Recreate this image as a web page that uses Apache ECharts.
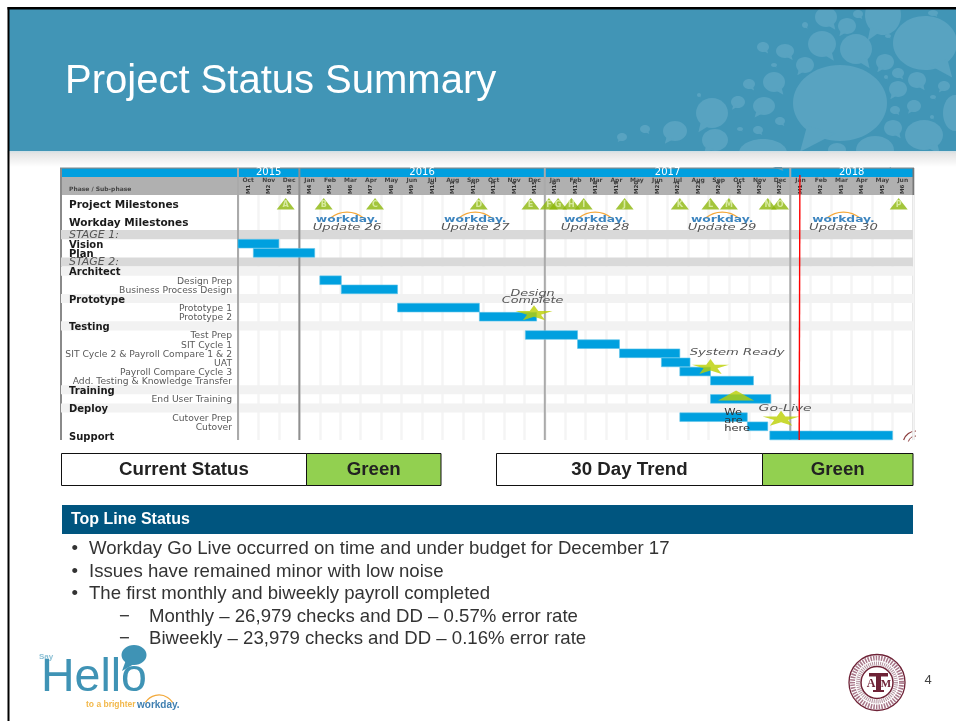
<!DOCTYPE html>
<html><head><meta charset="utf-8">
<style>html,body{margin:0;padding:0;background:#fff}#c{width:956px;height:721px}</style>
<script src="https://cdn.jsdelivr.net/npm/echarts@6/dist/echarts.min.js"></script>
</head><body><div id="c"></div>
<script>
// ---------- chart data (x values are months counted from Oct 2015) ----------
const months = ['Oct','Nov','Dec','Jan','Feb','Mar','Apr','May','Jun','Jul','Aug','Sep','Oct','Nov','Dec','Jan','Feb','Mar','Apr','May','Jun','Jul','Aug','Sep','Oct','Nov','Dec','Jan','Feb','Mar','Apr','May','Jun'];
const monthCodes = ['M1','M2','M3','M4','M5','M6','M7','M8','M9','M10','M11','M12','M13','M14','M15','M16','M17','M18','M19','M20','M21','M22','M23','M24','M25','M26','M27','M1','M2','M3','M4','M5','M6'];
const yearNames = ['2015','2016','2017','2018'];
const yearStarts = [0,3,15,27];
const yearEnds = [3,15,27,33];
const topRows = ['Project Milestones','Workday Milestones'];
const rows = ['STAGE 1:','Vision','Plan','STAGE 2:','Architect','Design Prep','Business Process Design','Prototype','Prototype 1','Prototype 2','Testing','Test Prep','SIT Cycle 1','SIT Cycle 2 & Payroll Compare 1 & 2','UAT','Payroll Compare Cycle 3','Add. Testing & Knowledge Transfer','Training','End User Training','Deploy','Cutover Prep','Cutover','Support'];
const stageRows = ['STAGE 1:','STAGE 2:'];
const sectionRows = ['Vision','Plan','Architect','Prototype','Testing','Training','Deploy','Support'];
const shadedRows = ['Architect','Prototype','Testing','Training','Deploy'];
const taskNames = ['Vision','Plan','Design Prep','Business Process Design','Prototype 1','Prototype 2','Test Prep','SIT Cycle 1','SIT Cycle 2 & Payroll Compare 1 & 2','UAT','Payroll Compare Cycle 3','Add. Testing & Knowledge Transfer','End User Training','Cutover Prep','Cutover','Support'];
const taskStarts = [0,0.75,4,5.05,7.8,11.8,14.05,16.6,18.65,20.7,21.6,23.1,23.1,21.6,24.9,26];
const taskEnds = [2,3.75,5.05,7.8,11.8,14.6,16.6,18.65,21.6,22.1,23.1,25.2,26.05,24.9,25.9,32];
const milestoneLetters = ['A','B','C','D','E','F','G','H','I','J','K','L','M','N','O','P'];
const milestoneMonths = [2.33,4.19,6.7,11.77,14.3,15.2,15.65,16.3,16.9,18.9,21.6,23.1,24,25.9,26.5,32.3];
const updateNames = ['Update 26','Update 27','Update 28','Update 29','Update 30'];
const updateMonths = [5.33,11.6,17.46,23.67,29.6];
const starNames = ['Prototype 2','UAT','Cutover Prep'];
const starMonths = [14.47,23.1,26.55];
const goLiveMonth = 27.47;
const notes = ['Design\nComplete','System Ready','Go-Live','We\nare\nhere'];
const noteMonths = [14.4,24.4,26.75,23.77];
const noteRows = ['Prototype','SIT Cycle 2 & Payroll Compare 1 & 2','Deploy','Cutover Prep'];
const statusLabels = ['Current Status','30 Day Trend'];
const statusValue = 'Green';
const topLineTitle = 'Top Line Status';
const bullets = ['Workday Go Live occurred on time and under budget for December 17','Issues have remained minor with low noise','The first monthly and biweekly payroll completed'];
const subBullets = ['Monthly \u2013 26,979 checks and DD \u2013 0.57% error rate','Biweekly \u2013 23,979 checks and DD \u2013 0.16% error rate'];

// ---------- decoration ----------
const noteDy = [-1,0,1,4];
const noteScale = [1.5,1.55,1.65,1.35];
const bubbleList = [[840,103,47,38,-1],[925,43,32,27,1],[883,15,18,20,-1],[822,44,14,13,1],[856,49,16,15,1],[826,17,11,10,1],[847,26,9,8,-1],[858,14,5,4,1],[805,65,9,8,-1],[785,51,9,7,1],[763,47,6,5,1],[805,25,3,3,1],[885,62,9,8,-1],[898,73,6,5,1],[917,80,9,8,1],[898,89,9,8,-1],[774,82,11,10,1],[749,84,6,5,1],[738,102,7,6,-1],[764,106,11,9,-1],[712,113,16,15,-1],[675,131,12,10,-1],[645,129,5,4,1],[715,140,13,11,-1],[763,153,24,14,1],[758,130,5,4,1],[780,121,5,4,1],[740,129,3,2,1],[895,110,5,4,1],[914,106,7,6,-1],[893,128,9,8,1],[924,135,19,15,1],[944,86,6,5,-1],[955,113,12,18,1],[837,150,9,7,1],[875,150,19,14,1],[933,97,3,2,1],[932,117,2,2,1],[886,77,2,2,1],[888,36,3,2,1],[933,13,5,3,1],[774,65,3,2,1],[622,137,5,4,-1],[699,95,2,2,1]];

const SANS='"Liberation Sans",Arial,sans-serif', DV='"DejaVu Sans",sans-serif';
const G=[];
const rect=(x,y,w,h,fill,extra)=>G.push(Object.assign({type:'rect',shape:{x,y,width:w,height:h},style:{fill}},extra||{}));
const text=(x,y,t,font,fill,align,vAlign)=>G.push({type:'text',x,y,style:{text:t,font,fill,align:align||'left',verticalAlign:vAlign||'middle'}});

// header band
rect(9,9,947,142,'#4195b6');
bubbleList.forEach(b=>{
  G.push({type:'ellipse',shape:{cx:b[0],cy:b[1],rx:b[2],ry:b[3]},style:{fill:'#58a3c1'}});
  const d=b[4];
  G.push({type:'polygon',shape:{points:[[b[0]+d*b[2]*0.1,b[1]+b[3]*0.8],[b[0]+d*b[2]*0.85,b[1]+b[3]*1.28],[b[0]+d*b[2]*0.7,b[1]+b[3]*0.6]]},style:{fill:'#58a3c1'}});
});
rect(0,151,956,16,{type:'linear',x:0,y:0,x2:0,y2:1,colorStops:[{offset:0,color:'#cfdfe6'},{offset:0.15,color:'#e4e4e4'},{offset:1,color:'#ffffff'}]});
rect(0,0,956,7,'#fff');
rect(0,7,956,2.5,'#000');
rect(0,0,7.5,721,'#fff');
rect(7.5,7,2,714,'#000');
text(65,82,'Project Status Summary','40px '+SANS,'#fff');

// chart left header + frame
rect(61,168,177,9,'#009fdf');
rect(61,177,177,18,'#b0b0b0');
text(69,189,'Phase / Sub-phase','bold 6px '+DV,'#444');

// status boxes
[[61.5,453.5,245,134.5,0],[496.5,453.5,266,150.5,1]].forEach(b=>{
  rect(b[0],b[1],b[2],32,'#fff',{style:{fill:'#fff',stroke:'#111',lineWidth:1}});
  rect(b[0]+b[2],b[1],b[3],32,'#92d050',{style:{fill:'#92d050',stroke:'#111',lineWidth:1}});
  text(b[0]+b[2]/2,470,statusLabels[b[4]],'bold 18.7px '+SANS,'#222','center');
  text(b[0]+b[2]+b[3]/2,470,statusValue,'bold 18.7px '+SANS,'#222','center');
});
rect(62,505,851,29,'#00557f');
text(71,520,topLineTitle,'bold 16px '+SANS,'#fff');
bullets.forEach((t,i)=>{
  const y=[549,572,594][i];
  text(71.5,y,'\u2022','18.6px '+SANS,'#333');
  text(89,y,t,'18.6px '+SANS,'#333');
});
subBullets.forEach((t,i)=>{
  const y=[617,639][i];
  text(119,y,'\u2212','18.6px '+SANS,'#333');
  text(149,y,t,'18.6px '+SANS,'#333');
});

// Hello logo
text(41,678,'Hello','46.5px '+SANS,'#3f93b5');
text(39,657,'Say','bold 8px '+SANS,'#8cc0d5');
G.push({type:'ellipse',shape:{cx:134,cy:655,rx:12.5,ry:10},style:{fill:'#3f93b5'}});
G.push({type:'polygon',shape:{points:[[126,660],[122,671],[134,664]]},style:{fill:'#3f93b5'}});
text(86,705,'to a brighter','bold 8.5px '+SANS,'#f2b84b');
text(137,705,'workday.','bold 10px '+SANS,'#3f7fb0');
G.push({type:'arc',shape:{cx:159,cy:711,r:16,startAngle:-Math.PI*0.82,endAngle:-Math.PI*0.18},style:{fill:null,stroke:'#f2a93b',lineWidth:1.2}});

// seal
const M='#6e2236';
G.push({type:'circle',shape:{cx:877,cy:682.5,r:28},style:{fill:'#fff',stroke:M,lineWidth:1.3}});
G.push({type:'circle',shape:{cx:877,cy:682.5,r:24.5},style:{fill:null,stroke:'#a8788a',lineWidth:5,lineDash:[1.5,1.2]}});
G.push({type:'circle',shape:{cx:877,cy:682.5,r:19},style:{fill:null,stroke:'#b596a2',lineWidth:4,lineDash:[1,1]}});
G.push({type:'circle',shape:{cx:877,cy:682.5,r:16},style:{fill:'#fff',stroke:M,lineWidth:1.5}});
rect(869,673,19,3.5,M);
rect(876,673,5,18.5,M);
rect(873,690,11,2,M);
text(871,684,'A','bold 12px "Liberation Serif",serif',M,'center');
text(886,684,'M','bold 11px "Liberation Serif",serif',M,'center');
text(928,680,'4','13px '+SANS,'#444','center');

// frame lines and small cut-off artwork
rect(60,168,2,272,'#8a8a8a');
rect(60,167.5,854,1.2,'#7a8a90');
rect(912.5,168,1.8,272,'#777');
G.push({type:'arc',shape:{cx:916,cy:444,r:13,startAngle:-Math.PI*0.9,endAngle:-Math.PI*0.5},style:{fill:null,stroke:'#8a3a3a',lineWidth:1.2}});
G.push({type:'arc',shape:{cx:916,cy:444,r:8,startAngle:-Math.PI*0.9,endAngle:-Math.PI*0.5},style:{fill:null,stroke:'#8a3a3a',lineWidth:1}});

// ---------- ECharts ----------
const GL=238,GW=675;
const hiddenX=(g,extra)=>Object.assign({type:'value',gridIndex:g,min:0,max:33,interval:1,axisLine:{show:false},axisTick:{show:false},axisLabel:{show:false},splitLine:{show:false}},extra||{});
const richBase={
  top:{width:169,align:'left',color:'#1a1a1a',fontFamily:'DejaVu Sans',fontWeight:'bold',fontSize:10.5,padding:[4,0,0,0]},
  sec:{width:169,align:'left',color:'#1a1a1a',fontFamily:'DejaVu Sans',fontWeight:'bold',fontSize:10,padding:[3,0,0,0]},
  sub:{color:'#5a5a5a',fontFamily:'DejaVu Sans',fontSize:9.2,padding:[2,6,0,0]},
  stg:{width:169,align:'left',color:'#555',fontFamily:'DejaVu Sans',fontStyle:'italic',fontSize:11,padding:[1,0,0,0]}
};
const rowLabel=v=>stageRows.includes(v)?'{stg|'+v+'}':(sectionRows.includes(v)?'{sec|'+v+'}':'{sub|'+v+'}');

const option={
  animation:false,
  backgroundColor:'#fff',
  graphic:{elements:G},
  grid:[
    {left:GL,top:168,width:GW,height:9,show:true,backgroundColor:'#009fdf',borderWidth:0},
    {left:GL,top:177,width:GW,height:18,show:true,backgroundColor:'#b0b0b0',borderWidth:0},
    {left:GL,top:195,width:GW,height:35},
    {left:GL,top:230,width:GW,height:210}
  ],
  xAxis:[
    hiddenX(0,{position:'top'}),
    {type:'category',gridIndex:1,position:'top',data:months,axisLine:{show:false},axisTick:{show:false},
     axisLabel:{inside:true,interval:0,margin:0,fontFamily:'DejaVu Sans',fontWeight:'bold',fontSize:6,color:'#444',lineHeight:7}},
    {type:'category',gridIndex:1,position:'bottom',data:monthCodes,axisLine:{show:false},axisTick:{show:false},
     axisLabel:{inside:true,interval:0,rotate:90,margin:1,fontFamily:'DejaVu Sans',fontWeight:'bold',fontSize:5.5,color:'#333'}},
    hiddenX(2,{splitLine:{show:true,lineStyle:{color:'#f4f4f4',width:2.5}}}),
    hiddenX(3,{splitLine:{show:true,lineStyle:{color:'#f4f4f4',width:2.5}}})
  ],
  yAxis:[
    {type:'value',gridIndex:0,show:false},
    {type:'value',gridIndex:1,show:false},
    {type:'category',gridIndex:2,inverse:true,data:topRows,z:5,axisLine:{show:false},axisTick:{show:false},
     axisLabel:{interval:0,margin:0,formatter:v=>'{top|'+v+'}',rich:richBase}},
    {type:'category',gridIndex:3,inverse:true,data:rows,z:5,axisLine:{show:false},axisTick:{show:false},
     axisLabel:{interval:0,margin:0,formatter:rowLabel,rich:richBase}}
  ],
  series:[
    // row bands
    {type:'custom',xAxisIndex:4,yAxisIndex:3,z:1,silent:true,clip:false,
     data:rows.map((r,i)=>[i,stageRows.includes(r)?2:(shadedRows.includes(r)?1:0)]).filter(d=>d[1]>0),
     encode:{y:0},
     renderItem(p,api){
       const y=api.coord([0,api.value(0)])[1],h=api.size([0,1])[1],c=p.coordSys;
       return {type:'rect',shape:{x:61,y:y-h/2,width:c.x+c.width-61,height:h},style:{fill:api.value(1)===2?'#d9d9d9':'#f2f2f2'}};
     }},
    // year separators
    {type:'custom',xAxisIndex:4,yAxisIndex:3,z:2,silent:true,clip:false,
     data:yearStarts.map(v=>[v]),encode:{x:0},
     renderItem(p,api){
       const x=api.coord([api.value(0),0])[0],c=p.coordSys;
       return {type:'rect',shape:{x:x-1,y:168,width:2,height:c.y+c.height-168},style:{fill:api.value(0)===3?'#8f8f8f':'#aaaaaa'}};
     }},
    // year band
    {type:'custom',xAxisIndex:0,yAxisIndex:0,z:3,silent:true,clip:false,
     data:yearStarts.map((s,i)=>[s,yearEnds[i],yearNames[i]]),encode:{x:[0,1]},
     renderItem(p,api){
       const a=api.coord([api.value(0),0])[0],b=api.coord([api.value(1),0])[0];
       return {type:'text',x:(a+b)/2,y:p.coordSys.y+4.8,style:{text:yearNames[p.dataIndex],fill:'#fff',font:'10px '+DV,align:'center',verticalAlign:'middle'}};
     }},
    // task bars
    {type:'custom',xAxisIndex:4,yAxisIndex:3,z:3,silent:true,clip:false,
     data:taskNames.map((n,i)=>[taskStarts[i],taskEnds[i],rows.indexOf(n)]),encode:{x:[0,1],y:2},
     renderItem(p,api){
       const a=api.coord([api.value(0),api.value(2)]),b=api.coord([api.value(1),api.value(2)]),h=api.size([0,1])[1];
       return {type:'rect',shape:{x:a[0],y:a[1]-h/2+0.2,width:b[0]-a[0],height:h-0.4},style:{fill:'#00a0df',stroke:'#5cc3ea',lineWidth:0.6}};
     }},
    // project milestones
    {type:'scatter',xAxisIndex:3,yAxisIndex:2,z:4,silent:true,symbol:'triangle',symbolSize:[18,11.5],
     itemStyle:{color:'#8cb60a'},
     label:{show:true,position:'inside',offset:[0,1.5],formatter:p=>milestoneLetters[p.dataIndex],fontFamily:'DejaVu Sans',fontSize:8,fontWeight:'bold',color:'#e4f2b8'},
     data:milestoneMonths.map(m=>[m,0])},
    // workday updates
    {type:'custom',xAxisIndex:3,yAxisIndex:2,z:4,silent:true,clip:false,
     data:updateMonths.map(m=>[m,1]),encode:{x:0,y:1},
     renderItem(p,api){
       const a=api.coord([api.value(0),1]);
       const span=0.697;
       return {type:'group',children:[
         {type:'arc',shape:{cx:a[0],cy:a[1]+16.5,r:25.7,startAngle:-Math.PI/2-span,endAngle:-Math.PI/2+span},style:{fill:null,stroke:'#f5a83a',lineWidth:1.3}},
         {type:'text',x:a[0],y:a[1]-1,scaleX:1.45,style:{text:'workday.',fill:'#3d85bf',font:'bold 8.5px '+DV,align:'center',verticalAlign:'middle'}},
         {type:'text',x:a[0],y:a[1]+6.5,scaleX:1.55,style:{text:updateNames[p.dataIndex],fill:'#555',font:'italic 8.5px '+DV,align:'center',verticalAlign:'middle'}}
       ]};
     }},
    // stars
    {type:'scatter',xAxisIndex:4,yAxisIndex:3,z:6,silent:true,clip:false,
     symbol:'path://M50,0 L61,35 L98,35 L68,57 L79,91 L50,70 L21,91 L32,57 L2,35 L39,35 Z',symbolSize:[37,15],
     symbolOffset:[0,0],itemStyle:{color:'#bccf00'},
     data:starNames.map((n,i)=>({value:[starMonths[i],rows.indexOf(n)],symbolOffset:[0,[-4,4,1][i]]}))},
    // end-user training marker
    {type:'scatter',xAxisIndex:4,yAxisIndex:3,z:6,silent:true,clip:false,symbol:'triangle',symbolSize:[36,10],
     symbolOffset:[0,-3.5],itemStyle:{color:'#bccf00'},
     data:[[24.35,rows.indexOf('End User Training')]]},
    // handwritten notes
    {type:'custom',xAxisIndex:4,yAxisIndex:3,z:7,silent:true,clip:false,
     data:notes.map((n,i)=>[noteMonths[i],rows.indexOf(noteRows[i])]),encode:{x:0,y:1},
     renderItem(p,api){
       const a=api.coord([api.value(0),api.value(1)]),i=p.dataIndex;
       return {type:'text',x:a[0],y:a[1]+noteDy[i],scaleX:noteScale[i],
         style:{text:notes[i],fill:i===3?'#333':'#555',font:(i===3?'':'italic ')+'8.5px '+DV,lineHeight:i===3?8:7.5,align:i===3?'left':'center',verticalAlign:'middle'}};
     }},
    // go-live line
    {type:'custom',xAxisIndex:4,yAxisIndex:3,z:8,silent:true,clip:false,
     data:[[goLiveMonth]],encode:{x:0},
     renderItem(p,api){
       const x=api.coord([api.value(0),0])[0],c=p.coordSys;
       return {type:'line',shape:{x1:x,y1:175,x2:x-0.7,y2:c.y+c.height},style:{stroke:'#ff0000',lineWidth:1.4}};
     }}
  ]
};
echarts.init(document.getElementById('c'),null,{renderer:'canvas'}).setOption(option);
</script></body></html>
